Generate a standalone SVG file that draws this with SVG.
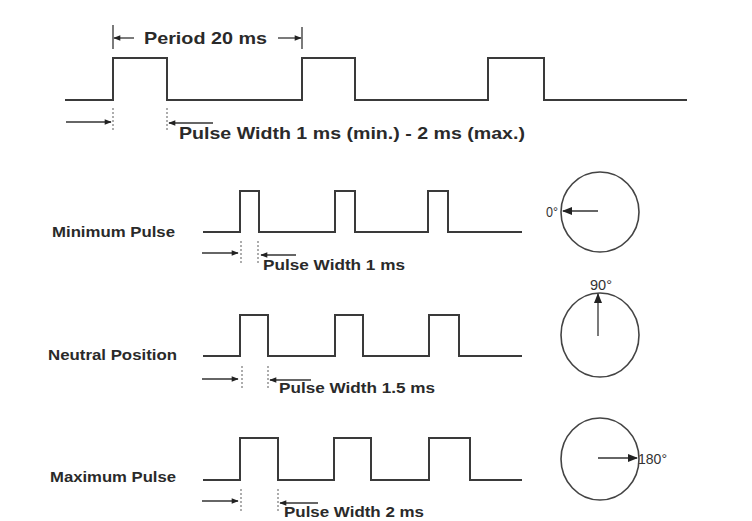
<svg xmlns="http://www.w3.org/2000/svg" width="752" height="521" viewBox="0 0 752 521">
<style>
.w{fill:none;stroke:#3a3a3a;stroke-width:2;stroke-linejoin:miter}
.a{fill:none;stroke:#333;stroke-width:1.3}
.d{fill:none;stroke:#777;stroke-width:1.2;stroke-dasharray:2 2}
.c{fill:none;stroke:#444;stroke-width:1.6}
.t{font-family:"Liberation Sans",Arial,sans-serif;font-weight:bold;fill:#2a2a2a}
.g{font-family:"Liberation Sans",Arial,sans-serif;fill:#333}
</style>
<defs>
<marker id="ah" viewBox="0 0 10 10" refX="9" refY="5" markerWidth="9" markerHeight="7" markerUnits="userSpaceOnUse" orient="auto"><path d="M0,1 L10,5 L0,9 Z" fill="#222"/></marker>
<marker id="ahb" viewBox="0 0 10 10" refX="9" refY="5" markerWidth="12" markerHeight="10" markerUnits="userSpaceOnUse" orient="auto"><path d="M0,1 L10,5 L0,9 Z" fill="#222"/></marker>
</defs>
<rect width="752" height="521" fill="#fff"/>

<g id="top-signal">
<path class="w" d="M65,100 H113 V58 H167 V100 H302 V58 H355 V100 H488 V58 H544 V100 H687"/>
<line class="a" x1="113" y1="25" x2="113" y2="49"/>
<line class="a" x1="302" y1="27" x2="302" y2="49"/>
<line class="a" x1="134" y1="38" x2="114" y2="38" marker-end="url(#ah)"/>
<line class="a" x1="278" y1="38" x2="301" y2="38" marker-end="url(#ah)"/>
<text class="t" x="144" y="44" font-size="17" textLength="123" lengthAdjust="spacingAndGlyphs">Period 20 ms</text>
<line class="a" x1="66" y1="122" x2="111" y2="122" marker-end="url(#ah)"/>
<line class="d" x1="113" y1="108" x2="113" y2="132"/>
<line class="d" x1="167" y1="108" x2="167" y2="132"/>
<line class="a" x1="213" y1="123" x2="169" y2="123" marker-end="url(#ah)"/>
<text class="t" x="179" y="139" font-size="16.5" textLength="346" lengthAdjust="spacingAndGlyphs">Pulse Width 1 ms (min.) - 2 ms (max.)</text>
</g>

<g id="minimum-pulse">
<text class="t" x="52" y="237" font-size="15.5" textLength="123" lengthAdjust="spacingAndGlyphs">Minimum Pulse</text>
<path class="w" d="M203,232 H240 V191 H259 V232 H335 V191 H355 V232 H428 V191 H448 V232 H522"/>
<line class="a" x1="202" y1="253" x2="238" y2="253" marker-end="url(#ah)"/>
<line class="d" x1="241" y1="241" x2="241" y2="263"/>
<line class="d" x1="258" y1="241" x2="258" y2="263"/>
<line class="a" x1="296" y1="255" x2="261" y2="255" marker-end="url(#ah)"/>
<text class="t" x="263" y="270" font-size="15" textLength="142" lengthAdjust="spacingAndGlyphs">Pulse Width 1 ms</text>
</g>

<g id="dial-0">
<ellipse class="c" cx="600" cy="212" rx="39" ry="40"/>
<line class="a" x1="598" y1="211" x2="563" y2="211" stroke-width="1.6" marker-end="url(#ahb)"/>
<text class="g" x="546" y="217" font-size="15" textLength="12" lengthAdjust="spacingAndGlyphs">0°</text>
</g>

<g id="neutral-position">
<text class="t" x="48" y="360" font-size="15.5" textLength="129" lengthAdjust="spacingAndGlyphs">Neutral Position</text>
<path class="w" d="M203,356 H240 V315 H268 V356 H335 V315 H363 V356 H429 V315 H459 V356 H522"/>
<line class="a" x1="202" y1="379" x2="238" y2="379" marker-end="url(#ah)"/>
<line class="d" x1="242" y1="366" x2="242" y2="388"/>
<line class="d" x1="268" y1="366" x2="268" y2="388"/>
<line class="a" x1="311" y1="380" x2="270" y2="380" marker-end="url(#ah)"/>
<text class="t" x="279" y="393" font-size="15" textLength="156" lengthAdjust="spacingAndGlyphs">Pulse Width 1.5 ms</text>
</g>

<g id="dial-90">
<ellipse class="c" cx="600" cy="335" rx="39" ry="42"/>
<line class="a" x1="598" y1="336" x2="598" y2="294" stroke-width="1.6" marker-end="url(#ahb)"/>
<text class="g" x="590" y="290" font-size="15" textLength="22" lengthAdjust="spacingAndGlyphs">90°</text>
</g>

<g id="maximum-pulse">
<text class="t" x="50" y="482" font-size="15.5" textLength="126" lengthAdjust="spacingAndGlyphs">Maximum Pulse</text>
<path class="w" d="M203,480 H240 V438 H278 V480 H334 V438 H371 V480 H429 V438 H470 V480 H522"/>
<line class="a" x1="202" y1="501" x2="238" y2="501" marker-end="url(#ah)"/>
<line class="d" x1="241" y1="489" x2="241" y2="511"/>
<line class="d" x1="278" y1="489" x2="278" y2="511"/>
<line class="a" x1="318" y1="503" x2="280" y2="503" marker-end="url(#ah)"/>
<text class="t" x="284" y="517" font-size="15" textLength="140" lengthAdjust="spacingAndGlyphs">Pulse Width 2 ms</text>
</g>

<g id="dial-180">
<ellipse class="c" cx="600" cy="459" rx="39" ry="41"/>
<line class="a" x1="598" y1="458" x2="637" y2="458" stroke-width="1.6" marker-end="url(#ahb)"/>
<text class="g" x="638" y="464" font-size="15" textLength="29" lengthAdjust="spacingAndGlyphs">180°</text>
</g>
</svg>
